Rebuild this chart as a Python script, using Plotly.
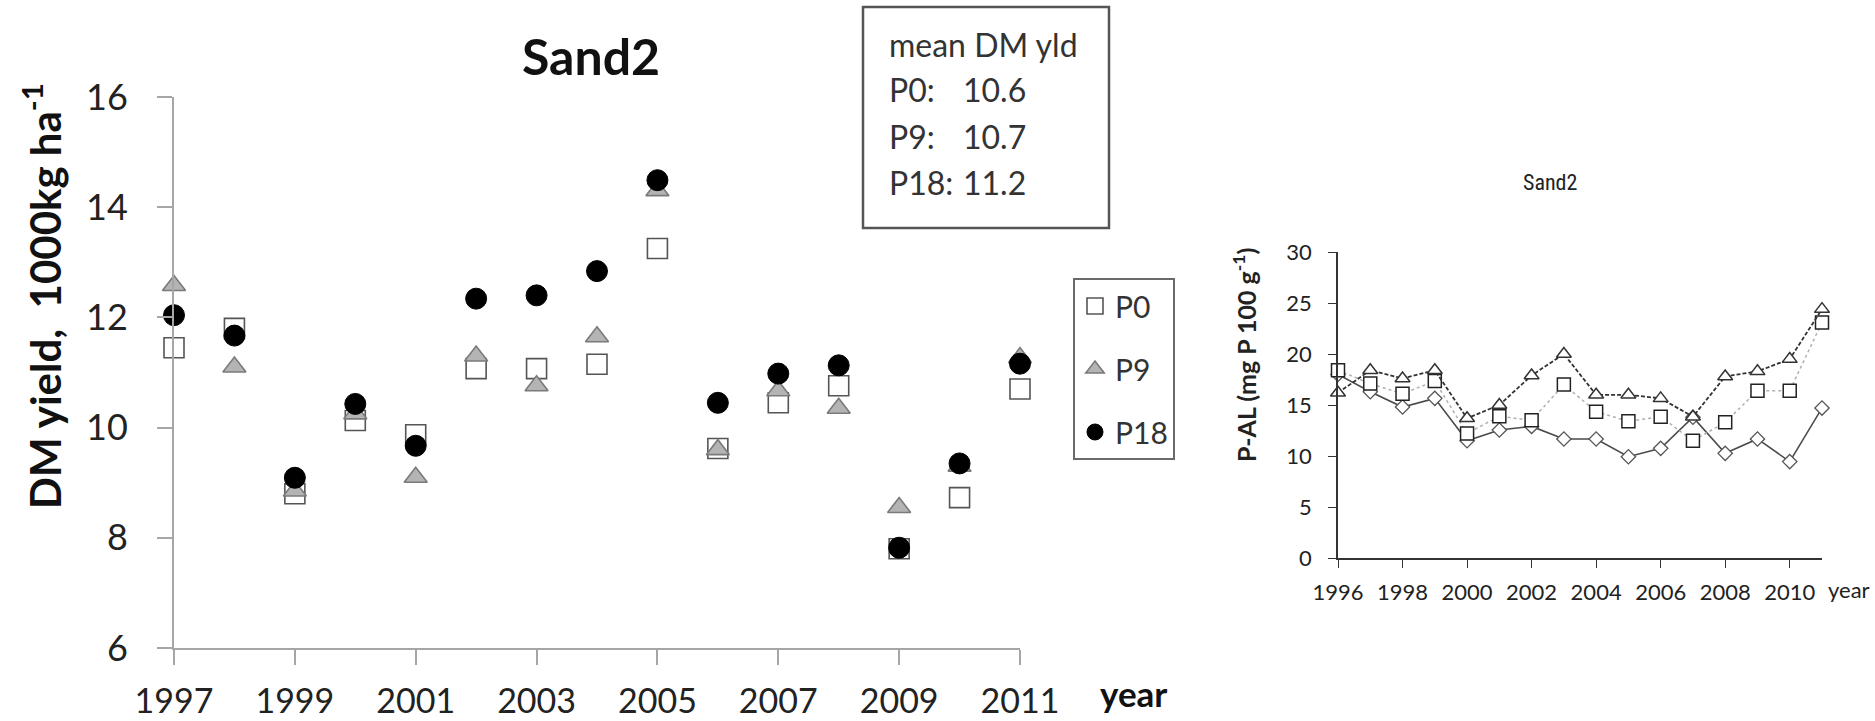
import plotly.graph_objects as go

# ---------------- data: left chart (DM yield) ----------------
years_dm = [1997, 1998, 1999, 2000, 2001, 2002, 2003, 2004, 2005, 2006, 2007, 2008, 2009, 2010, 2011]
p0_dm = [11.45, 11.8, 8.8, 10.13, 9.87, 11.07, 11.07, 11.15, 13.25, 9.62, 10.45, 10.76, 7.8, 8.73, 10.7]
p9_dm = [12.58, 11.1, 8.85, 10.25, 9.1, 11.3, 10.76, 11.65, 14.3, 9.6, 10.67, 10.35, 8.55, 9.3, 11.27]
p18_dm = [12.04, 11.67, 9.09, 10.43, 9.67, 12.34, 12.4, 12.84, 14.49, 10.45, 10.98, 11.13, 7.82, 9.35, 11.16]
dm_xticks = [1997, 1999, 2001, 2003, 2005, 2007, 2009, 2011]
dm_yticks = [6, 8, 10, 12, 14, 16]

mean_labels = ["P0:", "P9:", "P18:"]
mean_values = ["10.6", "10.7", "11.2"]

# ---------------- data: right chart (P-AL) ----------------
years_pal = [1996, 1997, 1998, 1999, 2000, 2001, 2002, 2003, 2004, 2005, 2006, 2007, 2008, 2009, 2010, 2011]
pal_p0 = [18.0, 16.3, 14.8, 15.65, 11.5, 12.55, 12.9, 11.67, 11.67, 9.93, 10.75, 13.8, 10.26, 11.67, 9.45, 14.7]
pal_p9 = [18.4, 17.1, 16.1, 17.35, 12.2, 13.9, 13.5, 17.0, 14.35, 13.4, 13.85, 11.5, 13.3, 16.4, 16.4, 23.1]
pal_p18 = [16.2, 18.4, 17.6, 18.4, 13.7, 15.0, 17.9, 20.0, 16.0, 16.0, 15.65, 13.85, 17.8, 18.3, 19.5, 24.4]
pal_xticks = [1996, 1998, 2000, 2002, 2004, 2006, 2008, 2010]
pal_yticks = [0, 5, 10, 15, 20, 25, 30]

W, H = 1875, 721
FONT = "Lato, 'Open Sans', sans-serif"
NARROW = "'Liberation Sans Narrow', 'Roboto Condensed', Roboto, sans-serif"


def px(x):
    return x / W


def py(y):
    return 1 - y / H


fig = go.Figure()

# left chart traces
fig.add_trace(go.Scatter(
    x=years_dm, y=p0_dm, mode="markers", name="P0", legendgroup="a",
    marker=dict(symbol="square", size=20, color="white", line=dict(color="#555555", width=1.6)),
    cliponaxis=False, xaxis="x", yaxis="y"))
fig.add_trace(go.Scatter(
    x=years_dm, y=p9_dm, mode="markers", name="P9", legendgroup="b",
    marker=dict(symbol="triangle-up", size=20, color="#b4b4b4", line=dict(color="#7a7a7a", width=1.6)),
    cliponaxis=False, xaxis="x", yaxis="y"))
fig.add_trace(go.Scatter(
    x=years_dm, y=p18_dm, mode="markers", name="P18", legendgroup="c",
    marker=dict(symbol="circle", size=21, color="black", line=dict(color="black", width=1)),
    cliponaxis=False, xaxis="x", yaxis="y"))

# right chart traces
fig.add_trace(go.Scatter(
    x=years_pal, y=pal_p0, mode="lines+markers", name="P0", showlegend=False,
    line=dict(color="#4a4a4a", width=1.6),
    marker=dict(symbol="diamond", size=11, color="white", line=dict(color="#555555", width=1.3)),
    cliponaxis=False, xaxis="x2", yaxis="y2"))
fig.add_trace(go.Scatter(
    x=years_pal, y=pal_p9, mode="lines+markers", name="P9", showlegend=False,
    line=dict(color="#b0b0b0", width=1.5, dash="dot"),
    marker=dict(symbol="square", size=13, color="white", line=dict(color="#222222", width=1.5)),
    cliponaxis=False, xaxis="x2", yaxis="y2"))
fig.add_trace(go.Scatter(
    x=years_pal, y=pal_p18, mode="lines+markers", name="P18", showlegend=False,
    line=dict(color="#333333", width=1.8, dash="4px,2px"),
    marker=dict(symbol="triangle-up", size=13, color="white", line=dict(color="#333333", width=1.5)),
    cliponaxis=False, xaxis="x2", yaxis="y2"))

left_axis = dict(showgrid=False, zeroline=False, showline=True, linecolor="#a6a6a6", linewidth=2,
                 ticks="outside", ticklen=15, tickwidth=2, tickcolor="#a6a6a6", automargin=False)
right_axis = dict(showgrid=False, zeroline=False, showline=True, linecolor="#333333", linewidth=1.6,
                  ticks="outside", ticklen=8, tickwidth=1.4, tickcolor="#333333", automargin=False,
                  tickfont=dict(family=FONT, size=22, color="#222222"))

fig.update_layout(
    width=W, height=H, autosize=False,
    margin=dict(l=0, r=0, t=0, b=0, pad=0),
    paper_bgcolor="white", plot_bgcolor="white",
    xaxis=dict(domain=[px(174), px(1020)], range=[1997, 2011], tickvals=dm_xticks,
               ticklabelstandoff=7, anchor="y",
               tickfont=dict(family=FONT, size=34, color="#222222"), **left_axis),
    yaxis=dict(domain=[py(648), py(97)], range=[6, 16], tickvals=dm_yticks,
               ticklabelstandoff=22, anchor="x",
               tickfont=dict(family=FONT, size=36, color="#222222"), **left_axis),
    xaxis2=dict(domain=[px(1338), px(1822)], range=[1996, 2011], tickvals=pal_xticks,
                ticklabelstandoff=6, anchor="y2", **right_axis),
    yaxis2=dict(domain=[py(558), py(252)], range=[0, 30], tickvals=pal_yticks,
                ticklabelstandoff=12, anchor="x2", **right_axis),
    showlegend=True,
    legend=dict(x=px(1073), y=py(278), xanchor="left", yanchor="top",
                bordercolor="#6a6a6a", borderwidth=2, bgcolor="white",
                font=dict(family=FONT, size=30, color="#333333"),
                tracegroupgap=21, itemwidth=30),
)

# mean DM box
fig.add_shape(type="rect", xref="paper", yref="paper",
              x0=px(863), x1=px(1109), y0=py(228), y1=py(7),
              line=dict(color="#555555", width=2.5), fillcolor="rgba(0,0,0,0)")

annotations = []


def ann(text, x, y, size, bold=False, family=FONT, xanchor="center", angle=0, color="#222222"):
    t = f"<b>{text}</b>" if bold else text
    annotations.append(dict(text=t, x=px(x), y=py(y), xref="paper", yref="paper",
                            showarrow=False, xanchor=xanchor, yanchor="middle",
                            textangle=angle, font=dict(family=family, size=size, color=color)))


ann("mean DM yld", 887, 45, 32, xanchor="left", color="#333333")
for i, (lab, val) in enumerate(zip(mean_labels, mean_values)):
    yy = 90 + i * 46
    ann(lab, 887, yy, 32, xanchor="left", color="#333333")
    ann(val, 961, yy, 32, xanchor="left", color="#333333")

ann("Sand2", 591, 56, 50, bold=True, color="#111111")
ann("DM yield,\u00a0\u00a01000kg ha<sup>-1</sup>", 42, 296, 42, bold=True, angle=-90, color="#111111")
ann("year", 1133, 693, 35, bold=True, color="#111111")

ann("Sand2", 1550, 182, 22, family=NARROW, color="#222222")
ann("P-AL (mg P 100 g<sup>-1</sup>)", 1244, 355, 25, bold=True, angle=-90, color="#222222")
ann("year", 1849, 589, 22, color="#222222")

fig.update_layout(annotations=annotations)

fig.write_html("out.html")
